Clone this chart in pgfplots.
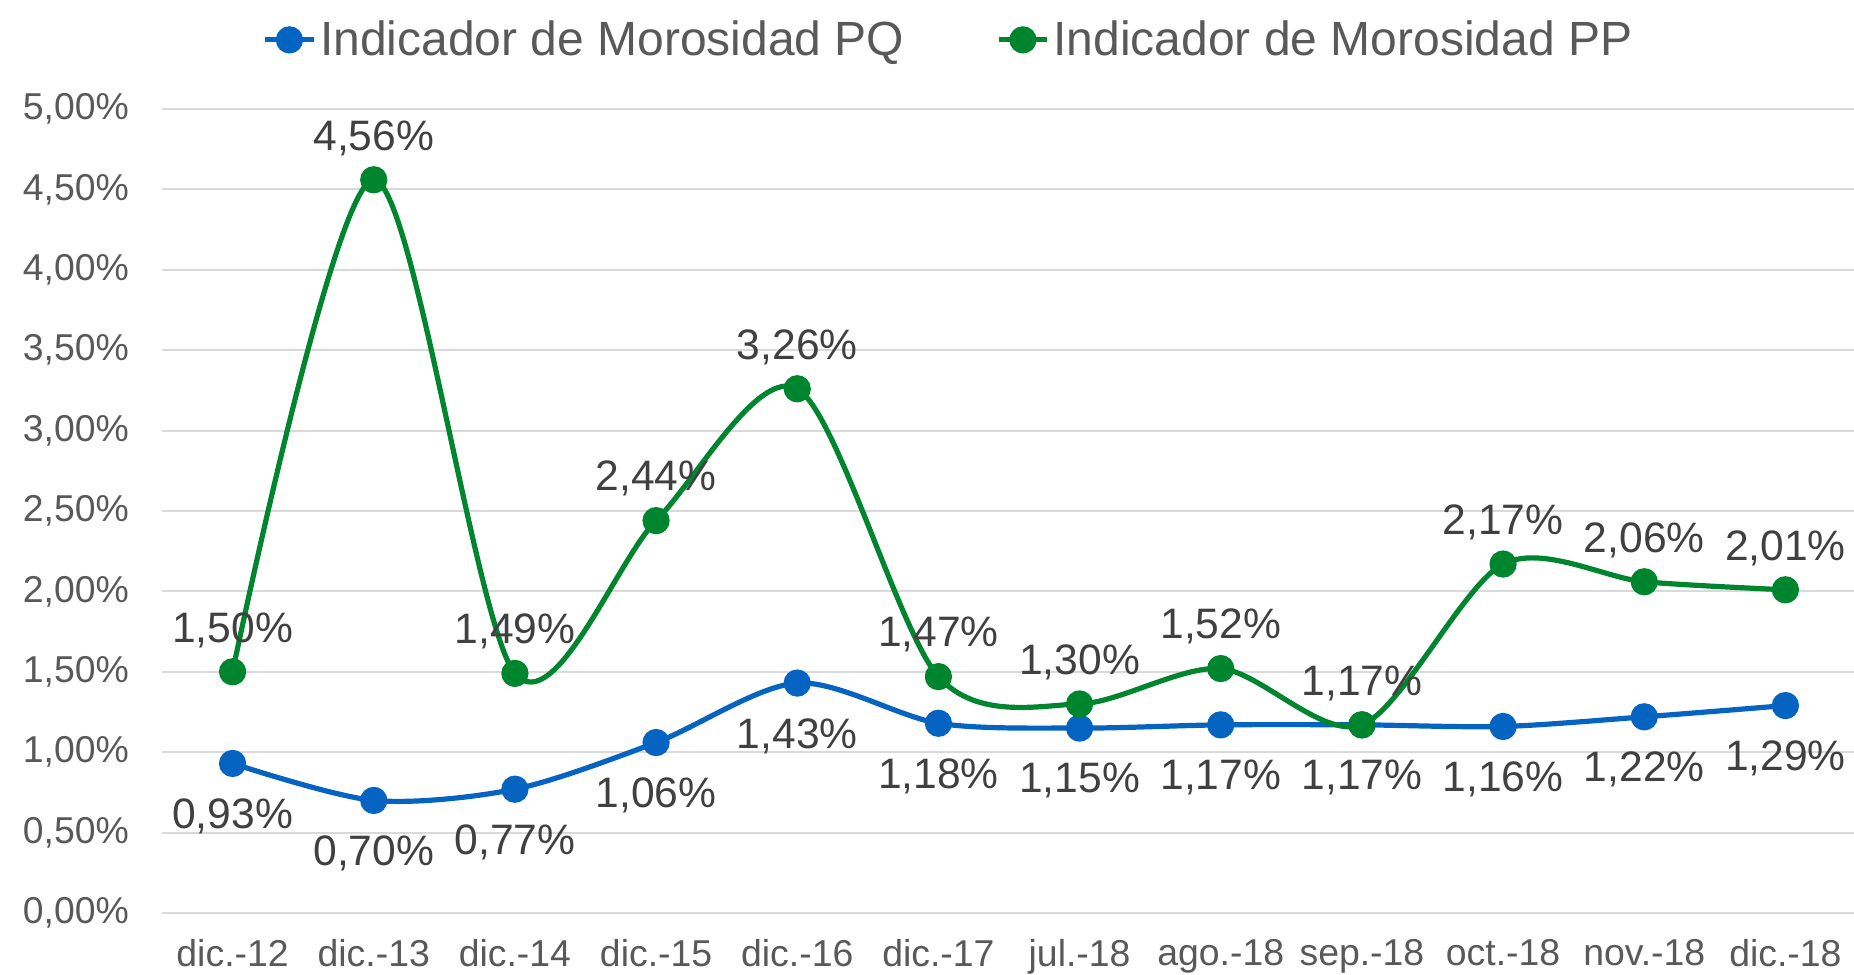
\documentclass[border=0pt]{standalone}
\usepackage{fontspec}
\setmainfont{Liberation Sans}
\usepackage{pgfplots}
\pgfplotsset{compat=1.18}
\definecolor{pqblue}{RGB}{5,99,193}
\definecolor{ppgreen}{RGB}{0,133,47}
\definecolor{ticktxt}{RGB}{89,89,89}
\definecolor{labtxt}{RGB}{64,64,64}
\definecolor{gridc}{RGB}{217,217,217}
\begin{document}
\begin{tikzpicture}
\begin{axis}[
  at={(0,0)}, anchor=south west,
  scale only axis,
  width=847pt, height=402pt,
  xmin=-0.5, xmax=11.5, ymin=0, ymax=5,
  axis line style={draw=none},
  major tick length=0pt,
  ymajorgrids, major grid style={color=gridc, line width=1pt},
  xtick={0,...,11},
  xticklabels={dic.-12,dic.-13,dic.-14,dic.-15,dic.-16,dic.-17,jul.-18,ago.-18,sep.-18,oct.-18,nov.-18,dic.-18},
  ytick={0,0.5,...,5},
  yticklabels={{0,00\%},{0,50\%},{1,00\%},{1,50\%},{2,00\%},{2,50\%},{3,00\%},{3,50\%},{4,00\%},{4,50\%},{5,00\%}},
  tick label style={font=\fontsize{18.7}{20}\selectfont, text=ticktxt},
  xticklabel style={yshift=-9.5pt},
  yticklabel style={xshift=-13pt},
  legend style={at={(0.465,1.086)}, anchor=center, draw=none, fill=none,
    font=\fontsize{24}{26}\selectfont, text=ticktxt, legend columns=2,
    /tikz/every even column/.append style={column sep=44pt}},
  legend image code/.code={\draw[mark repeat=2,mark phase=2] plot coordinates {(0pt,0pt) (12pt,0pt) (24pt,0pt)};},
  every node near coord/.append style={font=\fontsize{21.3}{23}\selectfont, text=labtxt},
  nodes near coords={\pgfmathprintnumber[fixed,fixed zerofill,precision=2,use comma,assume math mode=true]{\pgfplotspointmeta}\%},
]
\addplot[pqblue, line width=2.6pt, smooth, tension=0.5, mark=*, mark size=5.5pt,
  every node near coord/.append style={anchor=north, yshift=-13pt}]
  coordinates {(0,0.93) (1,0.70) (2,0.77) (3,1.06) (4,1.43) (5,1.18) (6,1.15) (7,1.17) (8,1.17) (9,1.16) (10,1.22) (11,1.29)};
\addlegendentry{Indicador de Morosidad PQ}
\addplot[ppgreen, line width=2.6pt, smooth, tension=0.5, mark=*, mark size=5.5pt,
  every node near coord/.append style={anchor=south, yshift=7.5pt}]
  coordinates {(0,1.50) (1,4.56) (2,1.49) (3,2.44) (4,3.26) (5,1.47) (6,1.30) (7,1.52) (8,1.17) (9,2.17) (10,2.06) (11,2.01)};
\addlegendentry{Indicador de Morosidad PP}
\end{axis}
\pgfresetboundingbox
\useasboundingbox (-81pt,-31pt) rectangle (846pt,456.5pt);
\end{tikzpicture}
\end{document}
